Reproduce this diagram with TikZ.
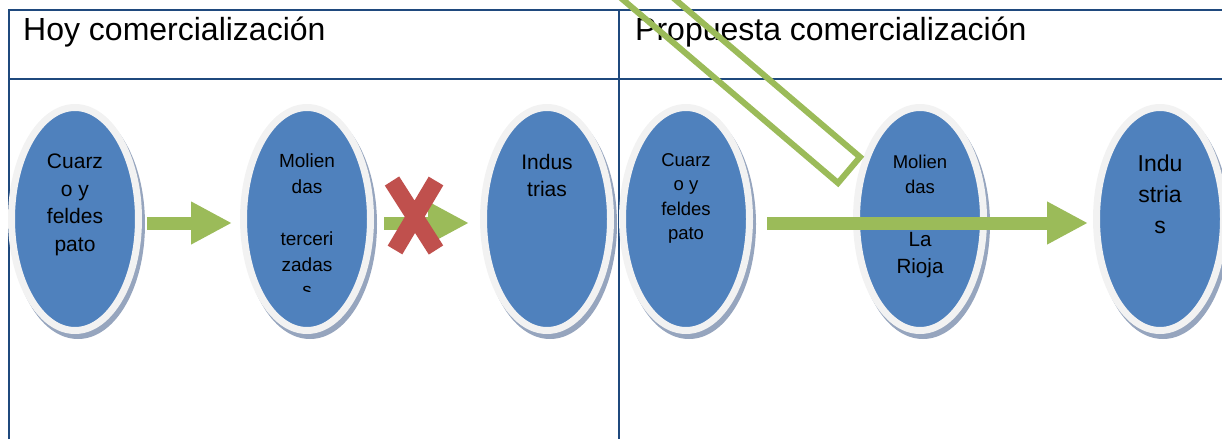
\documentclass[tikz,border=0pt]{standalone}
\usepackage{fontspec}
\setmainfont{Liberation Sans}
\usetikzlibrary{arrows.meta,shapes.geometric,shadows}
\definecolor{azul}{RGB}{79,129,189}
\definecolor{borde}{RGB}{242,242,242}
\definecolor{sombra}{RGB}{150,165,190}
\definecolor{verde}{RGB}{155,187,89}
\definecolor{rojo}{RGB}{192,80,77}
\definecolor{tabla}{RGB}{31,73,125}
\begin{document}
\begin{tikzpicture}[x=1pt, y=-1pt, line join=miter,
	elipse/.style={ellipse, minimum width=127pt, minimum height=223pt, inner sep=0pt, fill=azul, draw=borde, line width=7pt,
		drop shadow={shadow xshift=3pt, shadow yshift=-5pt, fill=sombra, draw=sombra, line width=7pt, opacity=1}},
	flecha/.style={verde, line width=13pt, -{Triangle[length=41pt,width=40pt]}},
	texto/.style={anchor=north, align=center, inner sep=0pt}]
	\useasboundingbox (0,0) rectangle (1222,439);
	\clip (0,0) rectangle (1222,439);
	% tabla
	\draw[tabla, line width=2pt] (9,439) -- (9,10) -- (1222,10) (9,79) -- (1222,79) (619,10) -- (619,439);
	\node[anchor=base west, inner sep=0pt, font=\fontsize{32}{38}\selectfont] (hoy) at (23,40) {Hoy comercialización};
	\node[anchor=base west, inner sep=0pt, font=\fontsize{32}{38}\selectfont] (propuesta) at (635,40) {Propuesta comercialización};
	% elipses
	\foreach \n/\x in {cuarzoA/75, moliendaA/307, industriasA/547, cuarzoB/686, moliendaB/920, industriasB/1160}
		\node[elipse] (\n) at (\x,219) {};
	\node[texto, yshift=65pt, font=\fontsize{21}{27.5}\selectfont] (tcuarzoA) at (cuarzoA.center) {Cuarz\\o y\\feldes\\pato};
	\begin{scope}
		\clip (230,100) rectangle (385,291);
		\node[texto, yshift=65pt, font=\fontsize{19}{25.8}\selectfont] (tmoliendaA) at (moliendaA.center) {Molien\\das\\[25.8pt]terceri\\zadas\\s};
	\end{scope}
	\node[texto, yshift=65pt, font=\fontsize{21}{27.5}\selectfont] (tindustriasA) at (industriasA.center) {Indus\\trias};
	\node[texto, yshift=66pt, font=\fontsize{18.5}{24.5}\selectfont] (tcuarzoB) at (cuarzoB.center) {Cuarz\\o y\\feldes\\pato};
	\node[texto, yshift=64pt, font=\fontsize{18.5}{24.5}\selectfont] (tmoliendaB) at (moliendaB.center) {Molien\\das};
	\node[texto, yshift=-13.4pt, font=\fontsize{20.6}{27}\selectfont] (triojaB) at (moliendaB.center) {La\\Rioja};
	\node[texto, yshift=64pt, font=\fontsize{23}{31}\selectfont] (tindustriasB) at (industriasB.center) {Indu\\stria\\s};
	% flechas
	\draw[flecha, shorten <=5pt, shorten >=8pt] ([yshift=-4pt]cuarzoA.east) -- ([yshift=-4pt]moliendaA.west);
	\draw[flecha, shorten <=10pt, shorten >=11pt] ([yshift=-4pt]moliendaA.east) -- ([yshift=-4pt]industriasA.west);
	\draw[flecha, shorten <=14pt, shorten >=5pt] ([yshift=-4pt]cuarzoB.east) -- ([yshift=-4pt]industriasB.west);
	% cruz
	\draw[rojo, line width=17pt] (392,181) -- (436,250) (436,181) -- (395,250);
	% flecha hueca
	\draw[verde, line width=6pt] (838,183) -- (860,157) -- ++(-305,-260) -- ++(-22,26) -- cycle;
\end{tikzpicture}
\end{document}
